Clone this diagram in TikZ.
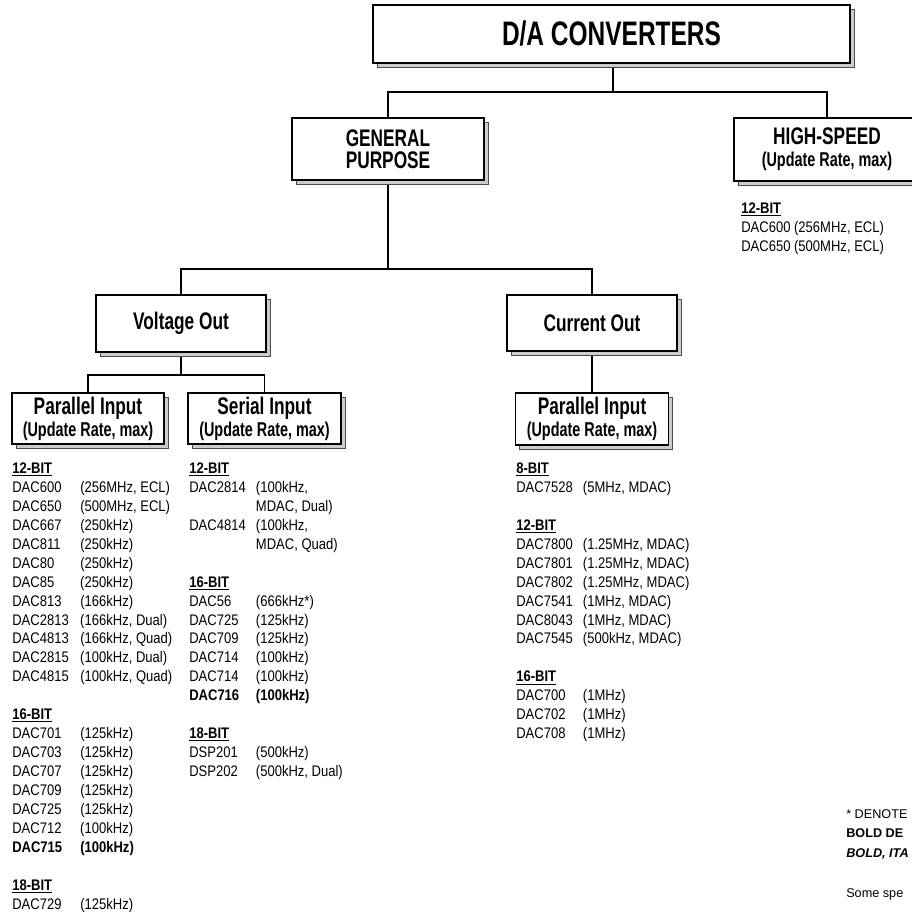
\documentclass[tikz,border=0pt]{standalone}
\usepackage{fontspec}
\setmainfont{Liberation Sans}[FakeStretch=0.85]
\newfontfamily\boxfont{Liberation Sans}[FakeStretch=0.72]
\newfontfamily\notefont{Liberation Sans}
\usepackage{array}
\usetikzlibrary{shadows, backgrounds}

\newcommand{\bits}[1]{\textbf{\underline{#1}}}
\newcommand{\rate}{\fontsize{15}{15}\selectfont (Update Rate, max)}

\begin{document}
\begin{tikzpicture}[
  x=0.75pt, y=-0.75pt,
  box/.style={draw, line width=1.3pt, fill=white, align=center, inner sep=0pt,
    drop shadow={shadow xshift=3pt, shadow yshift=-3pt, fill=gray!40, draw=black!70, line width=0.4pt, opacity=1},
    font=\boxfont\bfseries\fontsize{18}{16.5}\selectfont},
  link/.style={line width=1.1pt},
  list/.style={anchor=north west, inner sep=0pt, font=\fontsize{11.5}{14.2}\selectfont},
  note/.style={anchor=north west, inner sep=0pt, font=\notefont\fontsize{9.5}{14.8}\selectfont}
]
\useasboundingbox (0,0) rectangle (912,911);
\clip (0,0) rectangle (912,911);

% boxes
\node[box, minimum width=357.75pt, minimum height=43.5pt, font=\boxfont\bfseries\fontsize{25.5}{26}\selectfont] (conv) at (611.5,34) {D/A CONVERTERS};
\node[box, minimum width=144pt, minimum height=46.5pt] (gp) at (388,149) {GENERAL\\PURPOSE};
\node[box, minimum width=139.5pt, minimum height=47pt] (hs) at (827,149.5) {HIGH-SPEED\\\rate};
\node[box, minimum width=127.5pt, minimum height=42.75pt] (vo) at (181,323.5) {Voltage Out};
\node[box, minimum width=127.5pt, minimum height=42pt] (co) at (592,323) {Current Out};
\node[box, minimum width=114pt, minimum height=38.25pt] (vpar) at (88,418.5) {Parallel Input\\\rate};
\node[box, minimum width=114.75pt, minimum height=38.25pt] (vser) at (264.5,418.5) {Serial Input\\\rate};
\node[box, minimum width=114.75pt, minimum height=39pt] (cpar) at (592,419) {Parallel Input\\\rate};

% tree lines
\coordinate (j1) at (613,92);
\coordinate (j2) at (388,269);
\coordinate (j3) at (181,375);
\begin{scope}[on background layer]
\draw[link] (conv.south -| j1) -- (j1);
\draw[link] (gp.north) |- (j1) -| (hs.north);
\draw[link] (gp.south) -- (j2);
\draw[link] (vo.north) |- (j2) -| (co.north);
\draw[link] (vo.south) -- (j3);
\draw[link] (vpar.north) |- (j3) -| (vser.north);
\draw[link] (co.south) -- (cpar.north);
\end{scope}

% part lists
\node[list] (hslist) at (741,200) {\begin{tabular}{@{}l@{}}
\bits{12-BIT}\\
DAC600 (256MHz, ECL)\\
DAC650 (500MHz, ECL)
\end{tabular}};

\node[list] (vparlist) at (12,460) {\begin{tabular}{@{}p{51pt}@{}l@{}}
\bits{12-BIT}\\
DAC600 & (256MHz, ECL)\\
DAC650 & (500MHz, ECL)\\
DAC667 & (250kHz)\\
DAC811 & (250kHz)\\
DAC80 & (250kHz)\\
DAC85 & (250kHz)\\
DAC813 & (166kHz)\\
DAC2813 & (166kHz, Dual)\\
DAC4813 & (166kHz, Quad)\\
DAC2815 & (100kHz, Dual)\\
DAC4815 & (100kHz, Quad)\\
\\
\bits{16-BIT}\\
DAC701 & (125kHz)\\
DAC703 & (125kHz)\\
DAC707 & (125kHz)\\
DAC709 & (125kHz)\\
DAC725 & (125kHz)\\
DAC712 & (100kHz)\\
\textbf{DAC715} & \textbf{(100kHz)}\\
\\
\bits{18-BIT}\\
DAC729 & (125kHz)
\end{tabular}};

\node[list] (vserlist) at (189,460) {\begin{tabular}{@{}p{50pt}@{}l@{}}
\bits{12-BIT}\\
DAC2814 & (100kHz,\\
 & MDAC, Dual)\\
DAC4814 & (100kHz,\\
 & MDAC, Quad)\\
\\
\bits{16-BIT}\\
DAC56 & (666kHz*)\\
DAC725 & (125kHz)\\
DAC709 & (125kHz)\\
DAC714 & (100kHz)\\
DAC714 & (100kHz)\\
\textbf{DAC716} & \textbf{(100kHz)}\\
\\
\bits{18-BIT}\\
DSP201 & (500kHz)\\
DSP202 & (500kHz, Dual)
\end{tabular}};

\node[list] (cparlist) at (516,460) {\begin{tabular}{@{}p{50pt}@{}l@{}}
\bits{8-BIT}\\
DAC7528 & (5MHz, MDAC)\\
\\
\bits{12-BIT}\\
DAC7800 & (1.25MHz, MDAC)\\
DAC7801 & (1.25MHz, MDAC)\\
DAC7802 & (1.25MHz, MDAC)\\
DAC7541 & (1MHz, MDAC)\\
DAC8043 & (1MHz, MDAC)\\
DAC7545 & (500kHz, MDAC)\\
\\
\bits{16-BIT}\\
DAC700 & (1MHz)\\
DAC702 & (1MHz)\\
DAC708 & (1MHz)
\end{tabular}};

% footnote, cut by the page edge
\node[note] (fn) at (846,804) {\begin{tabular}{@{}l@{}}
* DENOTE\\
\textbf{BOLD DE}\\
\textbf{\textit{BOLD, ITA}}\\
\\
Some spe
\end{tabular}};
\end{tikzpicture}
\end{document}
